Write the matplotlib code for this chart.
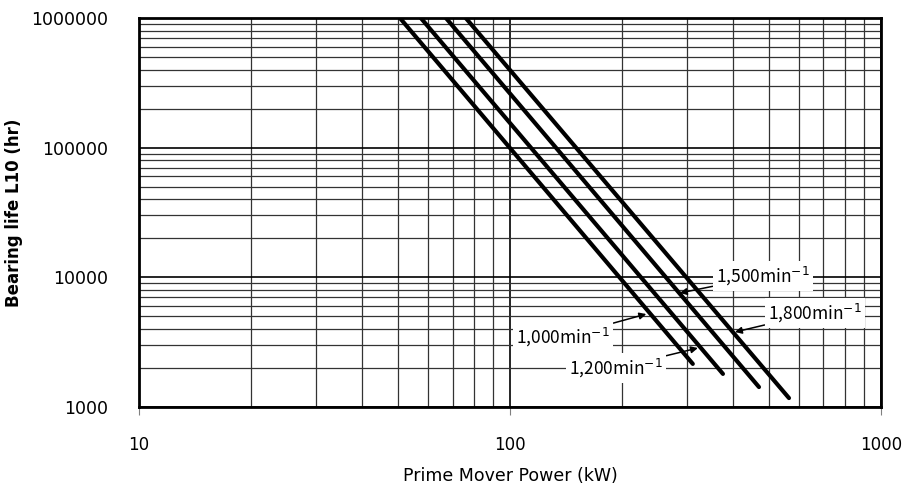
import matplotlib.pyplot as plt
from matplotlib.ticker import FixedLocator, LogLocator, NullFormatter, FuncFormatter

# speeds (min^-1) and the end points of each life line
speeds = [1000, 1200, 1500, 1800]
power_start = [50.5, 57.5, 67.2, 76.0]
life_start = [1000000, 1000000, 1000000, 1000000]
power_end = [311, 375, 469, 565]
life_end = [2150, 1800, 1425, 1172]

labels = ["1,000min$^{-1}$", "1,200min$^{-1}$", "1,500min$^{-1}$", "1,800min$^{-1}$"]

# annotation placement (data coords): text centre, arrow head
text_pos = [(139, 3470), (193, 2000), (481, 10230), (664, 5310)]
head_pos = [(233, 5210), (321, 2850), (287, 7570), (404, 3785)]

fig = plt.figure(figsize=(9.17, 4.91), dpi=100)
ax = fig.add_axes([0.1516, 0.1711, 0.8091, 0.7922])

ax.set_xscale("log")
ax.set_yscale("log")
ax.set_xlim(10, 1000)
ax.set_ylim(1000, 1000000)

for i in range(len(speeds)):
    ax.plot([power_start[i], power_end[i]], [life_start[i], life_end[i]],
            color="black", lw=3, solid_capstyle="round", zorder=3)

for i in range(len(speeds)):
    ax.annotate(labels[i], xy=head_pos[i], xytext=text_pos[i],
                ha="center", va="center", fontsize=12.5,
                family=["Noto Sans CJK JP", "DejaVu Sans"],
                bbox=dict(boxstyle="square,pad=0.2", fc="white", ec="none"),
                arrowprops=dict(arrowstyle="-|>", color="black", lw=1.1,
                                mutation_scale=10, shrinkA=0, shrinkB=0),
                zorder=4)

ax.xaxis.set_major_locator(FixedLocator([10, 100, 1000]))
ax.yaxis.set_major_locator(FixedLocator([1000, 10000, 100000, 1000000]))
ax.xaxis.set_minor_locator(LogLocator(base=10, subs=range(2, 10)))
ax.yaxis.set_minor_locator(LogLocator(base=10, subs=range(2, 10)))
ax.xaxis.set_minor_formatter(NullFormatter())
ax.yaxis.set_minor_formatter(NullFormatter())
ax.xaxis.set_major_formatter(FuncFormatter(lambda v, p: "%d" % v))
ax.yaxis.set_major_formatter(FuncFormatter(lambda v, p: "%d" % v))

ax.grid(True, which="major", color="black", lw=1.2)
ax.grid(True, which="minor", color="#333333", lw=0.9)
ax.set_axisbelow(True)

ax.tick_params(axis="x", which="major", length=6, color="gray", pad=15, labelsize=12)
ax.tick_params(axis="y", which="major", length=0, pad=22, labelsize=12.5)
ax.tick_params(which="minor", length=0)

for s in ax.spines.values():
    s.set_linewidth(2)
    s.set_color("black")

ax.set_xlabel("Prime Mover Power (kW)", fontsize=12.5)
ax.set_ylabel("Bearing life L10 (hr)", fontsize=12, fontweight="bold")
ax.xaxis.set_label_coords(0.5, -0.155)
ax.yaxis.set_label_coords(-0.156, 0.5)

fig.savefig("out.png", dpi=100)
